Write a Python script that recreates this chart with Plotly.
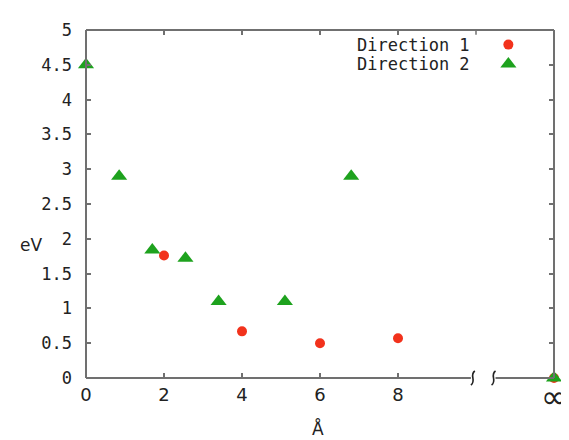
import numpy as np
import plotly.graph_objects as go

# ---- data ----
INF = np.inf
dir1_x = [2, 4, 6, 8, INF]
dir1_y = [1.76, 0.67, 0.50, 0.57, 0.0]
dir2_x = [0, 0.85, 1.7, 2.55, 3.4, 5.1, 6.8, INF]
dir2_y = [4.5, 2.9, 1.84, 1.72, 1.1, 1.1, 2.9, 0.0]
series_names = ["Direction 1", "Direction 2"]
x_tick_vals = [0, 2, 4, 6, 8]
x_tick_text = ["0", "2", "4", "6", "8"]
inf_label = "∞"
x_title = "Å"
y_title = "eV"

# ---- layout constants ----
INF_POS = 12.0          # axis position used for "infinity"
BREAK_L, BREAK_R = 9.92, 10.45
RED = "#f2321c"
GREEN = "#1ea21e"
AXC = "#707070"
TXT = "#222222"


def map_inf(xs):
    return [INF_POS if np.isinf(v) else v for v in xs]


fig = go.Figure()
fig.add_trace(go.Scatter(x=map_inf(dir1_x), y=dir1_y, mode="markers", name=series_names[0],
                         marker=dict(symbol="circle", size=10, color=RED), cliponaxis=False,
                         showlegend=False))
fig.add_trace(go.Scatter(x=map_inf(dir2_x), y=dir2_y, mode="markers", name=series_names[1],
                         marker=dict(symbol="triangle-up", size=14, color=GREEN), cliponaxis=False,
                         showlegend=False))

# legend keys (drawn to the right of the text as in the reference)
leg_x = 10.83
leg_y = [4.79, 4.51]
fig.add_trace(go.Scatter(x=[leg_x], y=[leg_y[0]], mode="markers", hoverinfo="skip",
                         marker=dict(symbol="circle", size=10, color=RED), showlegend=False))
fig.add_trace(go.Scatter(x=[leg_x], y=[leg_y[1]], mode="markers", hoverinfo="skip",
                         marker=dict(symbol="triangle-up", size=14, color=GREEN), showlegend=False))

annotations = []
for name, yy in zip(series_names, leg_y):
    annotations.append(dict(x=9.9, y=yy, xref="x", yref="y", text=name, showarrow=False,
                            xanchor="right", yanchor="middle",
                            font=dict(family="DejaVu Sans Mono", size=17, color=TXT)))
annotations.append(dict(x=-0.118, y=(377.7 - 241) / 357.7, xref="paper", yref="paper", text=y_title,
                        showarrow=False, xanchor="center", yanchor="middle",
                        font=dict(family="DejaVu Sans", size=17, color=TXT)))
annotations.append(dict(x=0.496, y=-0.146, xref="paper", yref="paper", text=x_title,
                        showarrow=False, xanchor="center", yanchor="middle",
                        font=dict(family="DejaVu Sans", size=17, color=TXT)))
annotations.append(dict(x=INF_POS, y=-0.054, xref="x", yref="paper", text=inf_label,
                        showarrow=False, xanchor="center", yanchor="middle",
                        font=dict(family="DejaVu Sans", size=32, color=TXT)))

lw = 2
shapes = [
    dict(type="line", xref="paper", yref="paper", x0=0, x1=0, y0=0, y1=1, line=dict(color=AXC, width=lw)),
    dict(type="line", xref="paper", yref="paper", x0=1, x1=1, y0=0, y1=1, line=dict(color=AXC, width=lw)),
    dict(type="line", xref="paper", yref="paper", x0=0, x1=1, y0=1, y1=1, line=dict(color=AXC, width=lw)),
    dict(type="line", xref="x", yref="paper", x0=0, x1=BREAK_L - 0.05, y0=0, y1=0, line=dict(color=AXC, width=lw)),
    dict(type="line", xref="x", yref="paper", x0=BREAK_R + 0.05, x1=INF_POS, y0=0, y1=0, line=dict(color=AXC, width=lw)),
    # top mirrored tick at 10
    dict(type="line", xref="x", yref="paper", x0=10, x1=10, y0=1, y1=0.986, line=dict(color=AXC, width=1.5)),
]
for bx in (BREAK_L, BREAK_R):
    shapes.append(dict(type="path", xref="x", yref="paper", xsizemode="pixel", ysizemode="pixel",
                       xanchor=bx, yanchor=0,
                       path="M 2,7 C -4,3 4,-3 -2,-7",
                       line=dict(color=TXT, width=1.6)))

# page body has an 8px margin, so the figure is 8px smaller and margins shifted
fig.update_layout(
    width=561, height=432,
    margin=dict(l=78, r=15, t=12, b=62),
    paper_bgcolor="white", plot_bgcolor="white",
    showlegend=False,
    annotations=annotations,
    shapes=shapes,
    xaxis=dict(range=[0, INF_POS], tickvals=x_tick_vals, ticktext=x_tick_text,
               ticks="inside", ticklen=5, tickwidth=1.5, tickcolor=AXC,
               mirror="ticks", showline=False, showgrid=False, zeroline=False,
               tickfont=dict(family="DejaVu Sans", size=18, color=TXT), ticklabelstandoff=4),
    yaxis=dict(range=[0, 5], dtick=0.5, tick0=0,
               ticks="inside", ticklen=5, tickwidth=1.5, tickcolor=AXC,
               mirror="ticks", showline=False, showgrid=False, zeroline=False,
               tickfont=dict(family="DejaVu Sans Mono", size=17, color=TXT), ticklabelstandoff=13),
)

fig.write_html("out.html")
